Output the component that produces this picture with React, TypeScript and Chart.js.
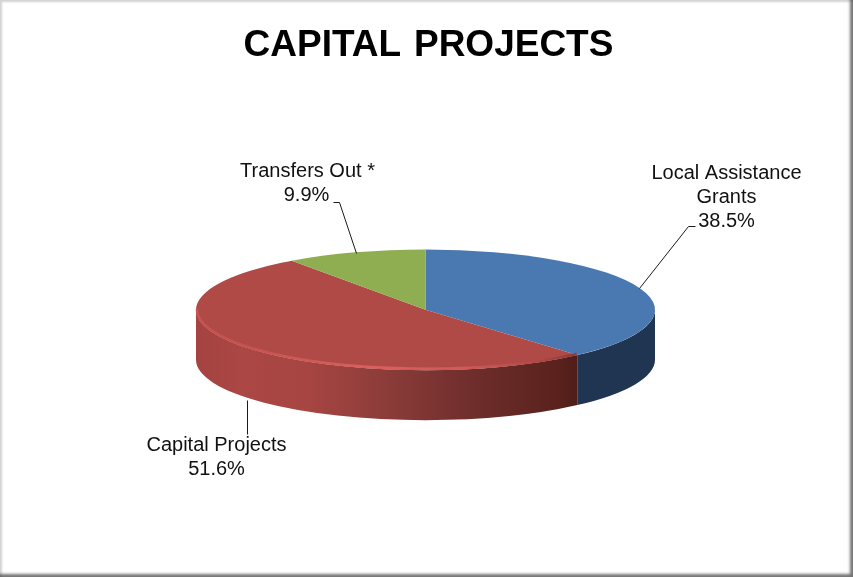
import React, { useEffect, useRef } from "react";
import { Chart, registerables } from "chart.js";

Chart.register(...registerables);

const categories = ["Local Assistance Grants", "Capital Projects", "Transfers Out *"];
const shares = [38.5, 51.6, 9.9];
const faceColors = ["#4a78b1", "#af4a47", "#8fae52"];
const chartTitle = "CAPITAL PROJECTS";

const FONT = '"Liberation Sans", Arial, sans-serif';
const TILT = 0.263;
const DEPTH = 50;
const OFFSET_X = -3;

const calloutText = [
  { lines: ["Local Assistance", "Grants", "38.5%"], x: 726.5, y: 173 },
  { lines: ["Capital Projects", "51.6%"], x: 216.5, y: 445 },
  { lines: ["Transfers Out *"], x: 307.5, y: 171 },
  { lines: ["9.9%"], x: 306.5, y: 195 },
];
const leaders = [
  [[695, 226], [688, 226], [639, 288]],
  [[247, 400], [247, 434]],
  [[333, 202], [339, 202], [356, 253]],
];

function wallFill(ctx: CanvasRenderingContext2D, i: number, x0: number, x1: number) {
  if (i === 0) return "#1f3552";
  const g = ctx.createLinearGradient(x0, 0, x1, 0);
  g.addColorStop(0, "#a44341");
  g.addColorStop(0.12, "#ab4745");
  g.addColorStop(0.3, "#a64542");
  g.addColorStop(0.5, "#8b3c39");
  g.addColorStop(0.75, "#6c2c2a");
  g.addColorStop(0.95, "#5a221d");
  g.addColorStop(1, "#4f1d18");
  return g;
}

const pie3d = {
  id: "pie3d",
  beforeDraw(chart: any) {
    chart.ctx.wordSpacing = "2.5px";
  },
  beforeDatasetsDraw(chart: any) {
    const ctx: any = chart.ctx;
    ctx.wordSpacing = "0px";
    const arcs = chart.getDatasetMeta(0).data;
    const first = arcs[0];
    const cx = first.x + OFFSET_X;
    const cy = first.y;
    const R = first.outerRadius;
    const ry = R * TILT;
    ctx.save();
    arcs.forEach((a: any, i: number) => {
      const start = Math.max(a.startAngle, 0);
      const end = Math.min(a.endAngle, Math.PI);
      if (end <= start) return;
      ctx.beginPath();
      ctx.ellipse(cx, cy, R, ry, 0, start, end, false);
      ctx.ellipse(cx, cy + DEPTH, R, ry, 0, end, start, true);
      ctx.closePath();
      const xs = [cx + R * Math.cos(start), cx + R * Math.cos(end)];
      ctx.fillStyle = wallFill(ctx, i, Math.min(...xs), Math.max(...xs));
      ctx.fill();
    });
    ctx.restore();
    ctx.save();
    ctx.translate(cx, cy);
    ctx.scale(1, TILT);
    ctx.translate(-first.x, -cy);
  },
  afterDatasetsDraw(chart: any) {
    const ctx: CanvasRenderingContext2D = chart.ctx;
    ctx.restore();
    const arcs = chart.getDatasetMeta(0).data;
    const first = arcs[0];
    const cx = first.x + OFFSET_X;
    const cy = first.y;
    const R = first.outerRadius;
    const ry = R * TILT;
    const red = arcs[1];

    // Bevel along the front rim of the large slice
    ctx.save();
    ctx.beginPath();
    ctx.ellipse(cx, cy, R - 1, ry - 1.5, 0, red.startAngle, Math.PI + 0.02, false);
    const g = ctx.createLinearGradient(cx - R, 0, cx + R * 0.66, 0);
    g.addColorStop(0, "#c85452");
    g.addColorStop(0.12, "#c45250");
    g.addColorStop(0.45, "#da605e");
    g.addColorStop(0.7, "#cf5b58");
    g.addColorStop(0.9, "#ae4846");
    g.addColorStop(1, "#8d3a38");
    ctx.strokeStyle = g;
    ctx.lineWidth = 2.5;
    ctx.stroke();
    ctx.restore();

    // Callouts
    ctx.save();
    ctx.strokeStyle = "#1a1a1a";
    ctx.lineWidth = 1;
    leaders.forEach((pts) => {
      ctx.beginPath();
      pts.forEach(([x, y], i) => (i ? ctx.lineTo(x + 0.5, y + 0.5) : ctx.moveTo(x + 0.5, y + 0.5)));
      ctx.stroke();
    });
    ctx.fillStyle = "#111111";
    ctx.font = `20px ${FONT}`;
    ctx.textAlign = "center";
    ctx.textBaseline = "middle";
    calloutText.forEach((c) => {
      c.lines.forEach((line, i) => ctx.fillText(line, c.x, c.y + i * 24));
    });
    ctx.restore();
  },
};

export default function App() {
  const ref = useRef<HTMLCanvasElement>(null);
  useEffect(() => {
    document.body.style.margin = "0";
    const chart = new Chart(ref.current!, {
      type: "pie",
      data: {
        labels: categories,
        datasets: [{ data: shares, backgroundColor: faceColors, borderWidth: 0, radius: 229.5 }],
      },
      options: {
        responsive: false,
        animation: false,
        layout: { padding: { top: 0, bottom: 25.8, left: 4, right: 0 } },
        plugins: {
          legend: { display: false },
          tooltip: { enabled: false },
          title: {
            display: true,
            text: chartTitle,
            color: "#000000",
            font: { family: FONT, size: 37, weight: "bold" },
            padding: { top: 24, bottom: 0 },
          },
        },
      },
      plugins: [pie3d],
    } as any);
    return () => chart.destroy();
  }, []);
  return (
    <div style={{ position: "relative", width: 853, height: 577, background: "#fff", overflow: "hidden" }}>
      <canvas ref={ref} width={853} height={577} style={{ display: "block" }} />
      <div
        style={{
          position: "absolute",
          inset: 0,
          pointerEvents: "none",
          boxShadow: "inset -3px -3px 3px rgba(70,70,70,0.75), inset 2px 2px 2px rgba(200,200,200,0.8)",
        }}
      />
    </div>
  );
}
